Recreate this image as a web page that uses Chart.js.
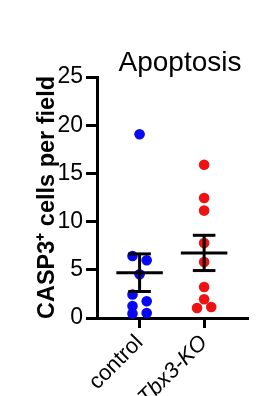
<!DOCTYPE html>
<html>
<head>
<meta charset="utf-8">
<script src="https://cdn.jsdelivr.net/npm/chart.js@4"></script>
<style>
  html, body { margin: 0; padding: 0; background: #fff; }
</style>
</head>
<body>
<canvas id="chart" width="275" height="396"></canvas>
<script>
// donnees
const groups = ['control', 'Tbx3-KO'];
const controlValues = [19.06, 6.43, 5.99, 4.53, 2.44, 1.73, 1.24, 0.46, 0.52];
const controlJitter = [0, -0.11, 0.11, 0, -0.11, 0.11, -0.11, -0.11, 0.11];
const koValues = [15.9, 12.45, 11.14, 7.78, 5.81, 3.22, 1.94, 1.04, 1.14];
const koJitter = [0, 0, 0, 0, 0, 0, 0, -0.11, 0.11];
const means = [4.7, 6.75];
const sems = [1.95, 1.83];
const yTicks = [0, 5, 10, 15, 20, 25];

const FONT = "'Liberation Sans', Arial, sans-serif";

function points(values, jitter, idx) {
  return values.map((v, i) => ({ x: idx + jitter[i], y: v }));
}

// barres moyenne +/- SEM
function errorBars() {
  const sets = [];
  means.forEach((m, i) => {
    const s = sems[i];
    const segs = [
      [{ x: i - 0.36, y: m }, { x: i + 0.36, y: m }],
      [{ x: i - 0.175, y: m + s }, { x: i + 0.175, y: m + s }],
      [{ x: i - 0.175, y: m - s }, { x: i + 0.175, y: m - s }],
      [{ x: i, y: m - s }, { x: i, y: m + s }]
    ];
    segs.forEach(seg => sets.push({
      data: seg,
      showLine: true,
      borderColor: '#000',
      borderWidth: 3,
      pointRadius: 0,
      borderCapStyle: 'butt',
      clip: false,
      order: 0
    }));
  });
  return sets;
}

// titre du graphique
const plotTitle = {
  id: 'plotTitle',
  afterDraw(chart) {
    const ctx = chart.ctx;
    ctx.save();
    ctx.fillStyle = '#000';
    ctx.font = '28px ' + FONT;
    ctx.textAlign = 'center';
    ctx.textBaseline = 'middle';
    ctx.fillText('Apoptosis', chart.chartArea.left + 83, 63.5);
    ctx.restore();
  }
};

new Chart(document.getElementById('chart'), {
  type: 'scatter',
  data: {
    datasets: [
      {
        data: points(controlValues, controlJitter, 0),
        backgroundColor: 'rgb(8,8,242)',
        borderWidth: 0,
        pointRadius: 5.3,
        clip: false,
        order: 1
      },
      {
        data: points(koValues, koJitter, 1),
        backgroundColor: 'rgb(238,18,18)',
        borderWidth: 0,
        pointRadius: 5.3,
        clip: false,
        order: 1
      }
    ].concat(errorBars())
  },
  options: {
    responsive: false,
    devicePixelRatio: 1,
    animation: false,
    layout: { padding: { top: 77, right: 27, bottom: 0, left: 0 } },
    plugins: {
      legend: { display: false },
      tooltip: { enabled: false }
    },
    scales: {
      x: {
        type: 'linear',
        min: -0.66,
        max: 1.68,
        afterBuildTicks: s => { s.ticks = groups.map((g, i) => ({ value: i })); },
        afterFit: s => { s.height = 78; },
        border: { display: true, color: '#000', width: 3 },
        grid: { drawOnChartArea: false, drawTicks: true, tickLength: 10, tickWidth: 3, tickColor: '#000' },
        ticks: {
          autoSkip: false,
          minRotation: 45,
          maxRotation: 45,
          padding: 2,
          color: '#000',
          callback: v => groups[v],
          font: ctx => ({ family: FONT, size: 22, style: ctx.index === 1 ? 'italic' : 'normal' })
        }
      },
      y: {
        min: 0,
        max: 25,
        afterBuildTicks: s => { s.ticks = yTicks.map(v => ({ value: v })); },
        afterFit: s => { s.width = 97; },
        border: { display: true, color: '#000', width: 3 },
        grid: { drawOnChartArea: false, drawTicks: true, tickLength: 11, tickWidth: 3, tickColor: '#000' },
        ticks: { color: '#000', padding: 3, font: { family: FONT, size: 23 } },
        title: {
          display: true,
          text: 'CASP3⁺ cells per field',
          color: '#000',
          font: { family: FONT, size: 23.5, weight: 'bold' },
          padding: { top: 33, bottom: 0 }
        }
      }
    }
  },
  plugins: [plotTitle]
});
</script>
</body>
</html>
